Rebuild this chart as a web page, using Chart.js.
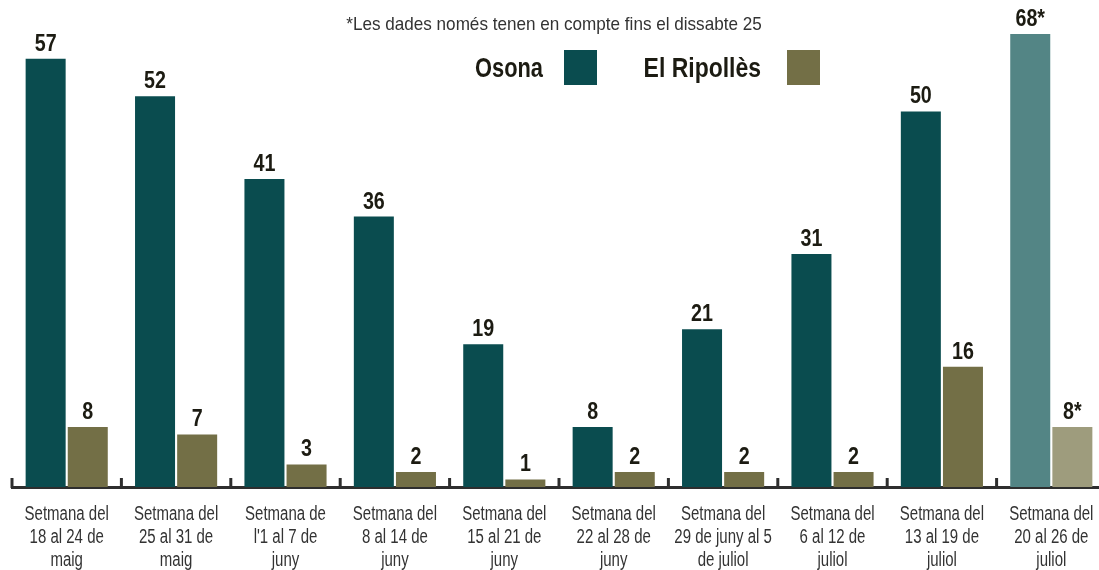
<!DOCTYPE html>
<html>
<head>
<meta charset="utf-8">
<script src="https://cdn.jsdelivr.net/npm/chart.js@4/dist/chart.umd.min.js"></script>
<style>
  html, body { margin: 0; padding: 0; background: #fff; overflow: hidden; }
  #wrap { width: 1110px; height: 570px; }
</style>
</head>
<body>
<div id="wrap"><canvas id="casos" width="1110" height="570"></canvas></div>
<script>
// ── dades ────────────────────────────────────────────────
const setmanes = [
  ["Setmana del", "18 al 24 de", "maig"],
  ["Setmana del", "25 al 31 de", "maig"],
  ["Setmana de", "l'1 al 7 de", "juny"],
  ["Setmana del", "8 al 14 de", "juny"],
  ["Setmana del", "15 al 21 de", "juny"],
  ["Setmana del", "22 al 28 de", "juny"],
  ["Setmana del", "29 de juny al 5", "de juliol"],
  ["Setmana del", "6 al 12 de", "juliol"],
  ["Setmana del", "13 al 19 de", "juliol"],
  ["Setmana del", "20 al 26 de", "juliol"],
];
const osona    = [57, 52, 41, 36, 19, 8, 21, 31, 50, 68];
const ripolles = [8, 7, 3, 2, 1, 2, 2, 2, 16, 8];
// setmana encara oberta (dades fins dissabte 25)
const parcial  = [false, false, false, false, false, false, false, false, false, true];
const nota     = "*Les dades només tenen en compte fins el dissabte 25";

// ── colors / fonts ───────────────────────────────────────
const CLR_OSONA      = "#0a4c4f";
const CLR_OSONA_LT   = "#538585";
const CLR_RIPOLL     = "#736f46";
const CLR_RIPOLL_LT  = "#9e9c7d";
const CLR_TEXT       = "#1c1b12";
const CLR_AXIS       = "#2e2e2e";
const FONT           = "'Liberation Sans', Arial, sans-serif";

// no hi ha cap font estreta instal·lada: s'estreny el text amb scale()
function narrowText(c, txt, x, y, sx) {
  c.save();
  c.translate(x, y);
  c.scale(sx, 1);
  c.fillText(txt, 0, 0);
  c.restore();
}

// etiquetes de valor damunt les barres
const valueLabels = {
  id: "valueLabels",
  afterDatasetsDraw(chart) {
    const c = chart.ctx;
    const top = chart.chartArea.top;
    c.save();
    c.font = `bold 24px ${FONT}`;
    c.fillStyle = CLR_TEXT;
    c.textAlign = "center";
    c.textBaseline = "alphabetic";
    chart.data.datasets.forEach((ds, di) => {
      chart.getDatasetMeta(di).data.forEach((bar, i) => {
        const y = Math.max(bar.y, top);
        const txt = ds.data[i] + (parcial[i] ? "*" : "");
        narrowText(c, txt, bar.x, y - 8, 0.82);
      });
    });
    c.restore();
  },
};

// marques de l'eix (cap amunt), etiquetes de l'eix, llegenda i nota
const extras = {
  id: "extras",
  afterDraw(chart) {
    const c = chart.ctx;
    const x = chart.scales.x;
    const bottom = chart.chartArea.bottom;
    const half = (x.getPixelForValue(1) - x.getPixelForValue(0)) / 2;
    c.save();
    c.strokeStyle = CLR_AXIS;
    c.lineWidth = 3;
    for (let i = 0; i <= setmanes.length; i++) {
      const px = i < setmanes.length ? x.getPixelForValue(i) - half : x.getPixelForValue(i - 1) + half;
      c.beginPath();
      c.moveTo(px, bottom + 1);
      c.lineTo(px, bottom - 9);
      c.stroke();
    }

    // etiquetes de categoria
    c.fillStyle = "#333";
    c.font = `20px ${FONT}`;
    c.textAlign = "center";
    c.textBaseline = "alphabetic";
    setmanes.forEach((lines, i) => {
      const px = x.getPixelForValue(i);
      lines.forEach((ln, j) => narrowText(c, ln, px, bottom + 33 + j * 23, 0.75));
    });

    // nota
    c.font = `19px ${FONT}`;
    narrowText(c, nota, 554, 30, 0.9);

    // llegenda: text i quadre a la dreta
    c.font = `bold 28px ${FONT}`;
    c.fillStyle = CLR_TEXT;
    c.textAlign = "right";
    narrowText(c, chart.data.datasets[0].label, 543, 77, 0.78);
    narrowText(c, chart.data.datasets[1].label, 761, 77, 0.82);
    c.fillStyle = CLR_OSONA;
    c.fillRect(564, 50, 33, 35);
    c.fillStyle = CLR_RIPOLL;
    c.fillRect(787, 50, 33, 35);
    c.restore();
  },
};

new Chart(document.getElementById("casos"), {
  type: "bar",
  data: {
    labels: setmanes,
    datasets: [
      {
        label: "Osona",
        data: osona,
        backgroundColor: osona.map((_, i) => parcial[i] ? CLR_OSONA_LT : CLR_OSONA),
        borderWidth: 0,
      },
      {
        label: "El Ripollès",
        data: ripolles,
        backgroundColor: ripolles.map((_, i) => parcial[i] ? CLR_RIPOLL_LT : CLR_RIPOLL),
        borderWidth: 0,
      },
    ],
  },
  options: {
    responsive: false,
    devicePixelRatio: 1,
    animation: false,
    categoryPercentage: 0.77,
    barPercentage: 0.95,
    layout: { padding: { left: 12, right: 4, top: 34, bottom: 75 } },
    plugins: {
      legend: { display: false },
      tooltip: { enabled: false },
    },
    scales: {
      x: {
        grid: { display: false },
        border: { display: true, color: CLR_AXIS, width: 3 },
        ticks: { display: false },
      },
      y: {
        display: false,
        min: 0,
        max: 60.3,
      },
    },
  },
  plugins: [valueLabels, extras],
});
</script>
</body>
</html>
